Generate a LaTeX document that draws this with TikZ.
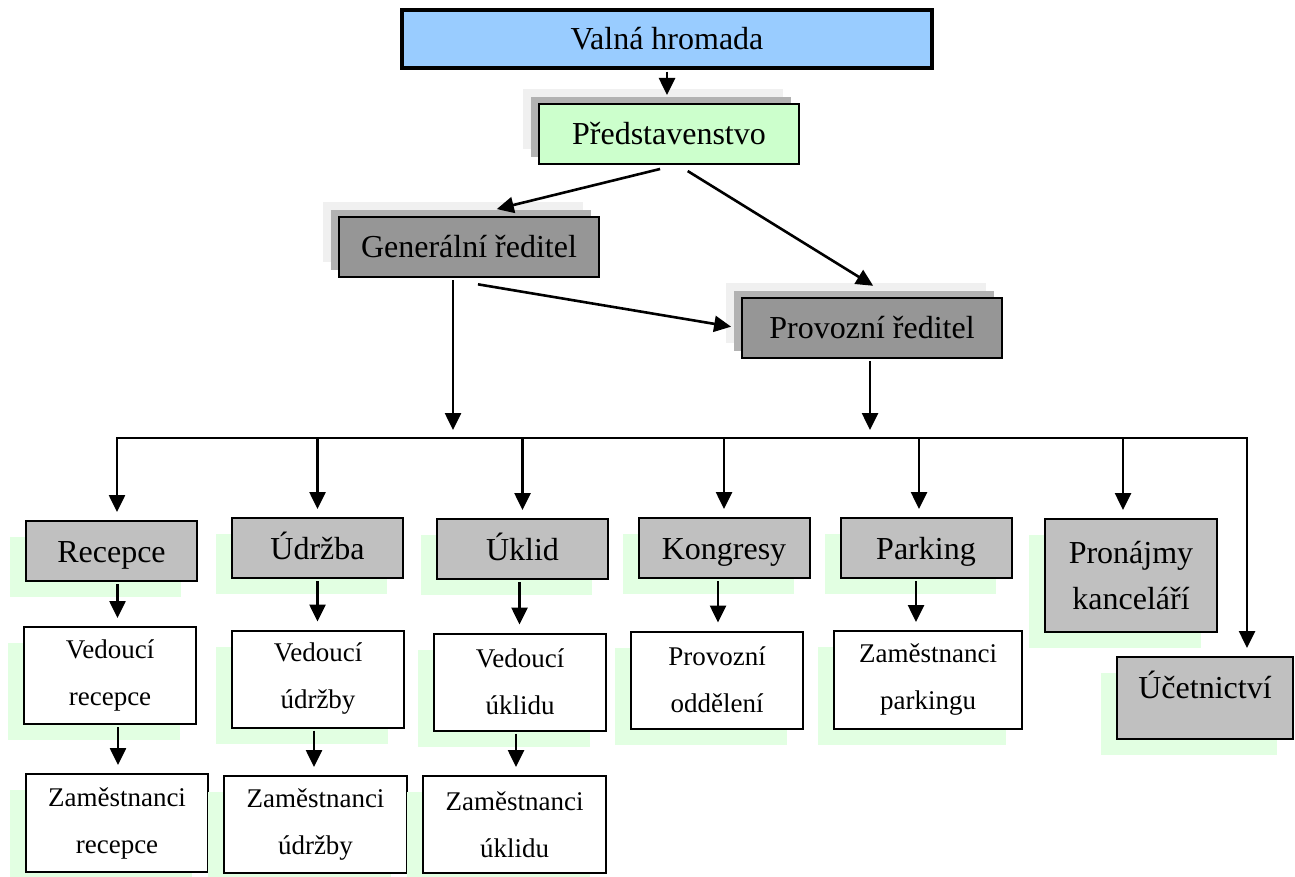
\documentclass[tikz,border=0pt]{standalone}
\usepackage{fontspec}
\setmainfont{Liberation Serif}
\usetikzlibrary{arrows.meta, shadows}
\definecolor{valnablue}{HTML}{99CCFF}
\definecolor{predgreen}{HTML}{CCFFCC}
\definecolor{headgray}{HTML}{969696}
\definecolor{deptgray}{HTML}{C0C0C0}
\definecolor{shadowdark}{HTML}{B2B2B2}
\definecolor{shadowlight}{HTML}{F0F0F0}
\definecolor{shadowgreen}{HTML}{E2FFE2}
\tikzstyle{graysh} = [general shadow={draw=none, fill=shadowlight, shadow xshift=-8pt, shadow yshift=7.5pt}, general shadow={draw=none, fill=shadowdark, shadow xshift=-4pt, shadow yshift=3.5pt}]
\tikzstyle{greensh} = [general shadow={draw=none, fill=shadowgreen, shadow xshift=-8pt, shadow yshift=-8pt}]
\tikzstyle{valnabox} = [rectangle, minimum width=265pt, minimum height=29pt, inner sep=0pt, draw=black, line width=1.6pt, fill=valnablue, font=\fontsize{16}{19}\selectfont]
\tikzstyle{boardbox} = [rectangle, minimum width=130pt, minimum height=30pt, inner sep=0pt, draw=black, line width=1pt, fill=predgreen, graysh, font=\fontsize{16}{19}\selectfont]
\tikzstyle{headbox} = [boardbox, fill=headgray]
\tikzstyle{deptbox} = [rectangle, minimum width=85.5pt, minimum height=30pt, inner sep=0pt, draw=black, line width=1pt, fill=deptgray, greensh, align=center, text height=13pt, text depth=2pt, font=\fontsize{16}{23}\selectfont]
\tikzstyle{staffbox} = [rectangle, minimum width=86pt, minimum height=48.5pt, inner sep=0pt, draw=black, line width=1pt, fill=white, greensh, align=center, font=\fontsize{13.5}{23.5}\selectfont]
\tikzstyle{line} = [line width=1.3pt, line cap=rect]
\tikzstyle{arrow} = [line width=1.3pt, -{Triangle[length=8.5pt,width=8pt]}, shorten >=4pt, shorten <=1pt]

\begin{document}
\begin{tikzpicture}[x=0.5pt, y=-0.5pt]
    \useasboundingbox (0,0) rectangle (1295,877);

    % Uzly
    \node (valna) [valnabox] at (667,39) {Valná hromada};
    \node (pred) [boardbox] at (669,134) {Představenstvo};
    \node (gen) [headbox] at (469,247) {Generální ředitel};
    \node (prov) [headbox] at (872,328) {Provozní ředitel};

    \node (recepce) [deptbox] at (111.5,551) {Recepce};
    \node (udrzba) [deptbox] at (317.5,548) {Údržba};
    \node (uklid) [deptbox] at (522.5,549) {Úklid};
    \node (kongresy) [deptbox] at (724,548) {Kongresy};
    \node (parking) [deptbox] at (926,548) {Parking};
    \node (pronajmy) [deptbox, text height={}, text depth={}, minimum width=86pt, minimum height=56.5pt] at (1131,575.5) {Pronájmy\\kanceláří};
    \node (ucet) [deptbox, minimum width=88pt, minimum height=41pt, text depth=13pt] at (1205,698) {Účetnictví};

    \node (vrecepce) [staffbox] at (110,675.5) {Vedoucí\\recepce};
    \node (vudrzby) [staffbox] at (318,679) {Vedoucí\\údržby};
    \node (vuklidu) [staffbox] at (520,682) {Vedoucí\\úklidu};
    \node (provodd) [staffbox] at (717,680) {Provozní\\oddělení};
    \node (zparking) [staffbox, minimum width=94pt, minimum height=49pt] at (928,680) {Zaměstnanci\\parkingu};

    \node (zrecepce) [staffbox, minimum width=91pt, minimum height=49pt] at (117,823) {Zaměstnanci\\recepce};
    \node (zudrzby) [staffbox, minimum width=91.5pt] at (315.5,824.5) {Zaměstnanci\\údržby};
    \node (zuklidu) [staffbox, minimum width=91.5pt] at (514.5,824.5) {Zaměstnanci\\úklidu};

    \coordinate (busL) at (117,438);
    \coordinate (busR) at (1247,438);

    % Šipky
    \draw [arrow] (valna.south) -- (valna.south |- pred.north);
    \draw [arrow] ([xshift=-3.5pt,yshift=-1.75pt]pred.south) -- ([xshift=10pt,yshift=2.5pt]gen.north);
    \draw [arrow] ([xshift=8.5pt,yshift=-2.5pt]pred.south) -- ([xshift=4pt,yshift=3.5pt]prov.north);
    \draw [arrow] ([xshift=3.5pt,yshift=-3pt]gen.south) -- ([xshift=-1pt]prov.west);
    \draw [arrow] ([xshift=-8pt]gen.south) -- ([xshift=-8pt]gen.south |- busL);
    \draw [arrow] ([xshift=-1pt]prov.south) -- ([xshift=-1pt]prov.south |- busL);

    \draw [line] (busL) -- (busR);
    \draw [arrow, shorten <=0pt] (busL) -- (busL |- recepce.north);
    \draw [arrow, shorten <=0pt] (udrzba.north |- busL) -- (udrzba.north);
    \draw [arrow, shorten <=0pt] (uklid.north |- busL) -- (uklid.north);
    \draw [arrow, shorten <=0pt] (kongresy.north |- busL) -- (kongresy.north);
    \draw [arrow, shorten <=0pt] ([xshift=-3.5pt]parking.north |- busL) -- ([xshift=-3.5pt]parking.north);
    \draw [arrow, shorten <=0pt] ([xshift=-4pt]pronajmy.north |- busL) -- ([xshift=-4pt]pronajmy.north);
    \draw [arrow, shorten <=0pt] (busR) -- (busR |- ucet.north);

    \draw [arrow] ([xshift=3pt]recepce.south) -- ([xshift=3pt]recepce.south |- vrecepce.north);
    \draw [arrow] ([xshift=4pt]vrecepce.south) -- ([xshift=4pt]vrecepce.south |- zrecepce.north);
    \draw [arrow] (udrzba.south) -- (udrzba.south |- vudrzby.north);
    \draw [arrow] ([xshift=-2pt]vudrzby.south) -- ([xshift=-2pt]vudrzby.south |- zudrzby.north);
    \draw [arrow] ([xshift=-1.5pt]uklid.south) -- ([xshift=-1.5pt]uklid.south |- vuklidu.north);
    \draw [arrow] ([xshift=-2pt]vuklidu.south) -- ([xshift=-2pt]vuklidu.south |- zuklidu.north);
    \draw [arrow] ([xshift=-3pt]kongresy.south) -- ([xshift=-3pt]kongresy.south |- provodd.north);
    \draw [arrow] ([xshift=-5pt]parking.south) -- ([xshift=-5pt]parking.south |- zparking.north);

\end{tikzpicture}
\end{document}
